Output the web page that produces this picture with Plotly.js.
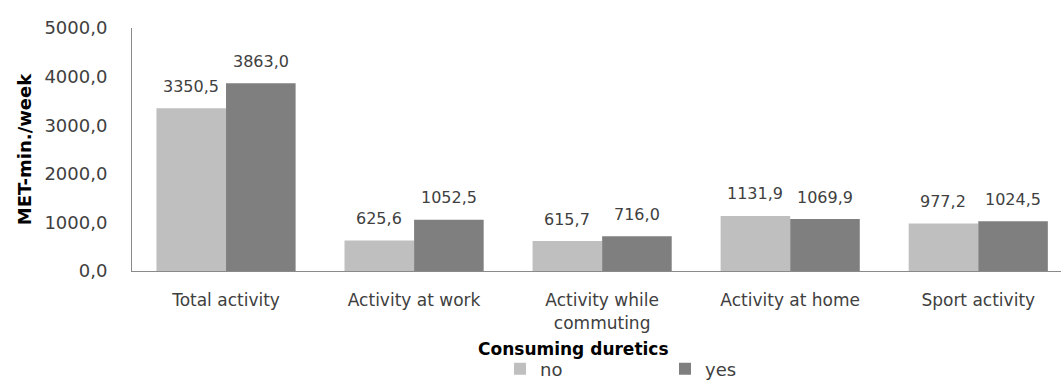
<!DOCTYPE html>
<html>
<head>
<meta charset="utf-8">
<script src="https://cdn.plot.ly/plotly-3.0.1.min.js"></script>
<style>
  html, body { margin: 0; padding: 0; background: #ffffff; }
  #chart { width: 1061px; height: 381px; }
</style>
</head>
<body>
<div id="chart"></div>
<script>
// Physical activity (MET-min./week) by diuretic use
const categories = ['Total activity', 'Activity at work', 'Activity while<br>commuting', 'Activity at home', 'Sport activity'];
const seriesNames = ['no', 'yes'];
const valuesNo  = [3350.5, 625.6, 615.7, 1131.9, 977.2];
const valuesYes = [3863.0, 1052.5, 716.0, 1069.9, 1024.5];
const yTicks = [0, 1000, 2000, 3000, 4000, 5000];

const colorNo = '#bfbfbf';
const colorYes = '#7f7f7f';
const FONT = 'DejaVu Sans, sans-serif';
const bargap = 0.26;

// Comma decimal separator, one decimal place
const fmt = v => v.toFixed(1).replace('.', ',');

const idx = categories.map((_, i) => i);

const traces = [
  { type: 'bar', name: seriesNames[0], x: idx, y: valuesNo,
    marker: { color: colorNo }, hoverinfo: 'y' },
  { type: 'bar', name: seriesNames[1], x: idx, y: valuesYes,
    marker: { color: colorYes }, hoverinfo: 'y' }
];

// Value labels above each bar, offset to the centre of its half of the group
const half = (1 - bargap) / 4;
const labels = [];
idx.forEach(i => {
  labels.push({ x: i - half, y: valuesNo[i], text: fmt(valuesNo[i]) });
  labels.push({ x: i + half, y: valuesYes[i], text: fmt(valuesYes[i]) });
});
const annotations = labels.map(l => ({
  xref: 'x', yref: 'y', x: l.x, y: l.y, text: l.text,
  showarrow: false, yanchor: 'middle', yshift: 22,
  font: { family: FONT, size: 16, color: '#404040' }
}));
// Legend heading
annotations.push({
  xref: 'paper', yref: 'paper', x: (573 - 132) / 929, y: -(349 - 271) / 243,
  xanchor: 'center', yanchor: 'middle', showarrow: false,
  text: '<b>Consuming duretics</b>',
  font: { family: FONT, size: 17, color: '#000000' }
});

const layout = {
  width: 1061, height: 381,
  margin: { l: 132, r: 0, t: 28, b: 110, autoexpand: false },
  paper_bgcolor: '#ffffff', plot_bgcolor: '#ffffff',
  barmode: 'group', bargap: bargap, bargroupgap: 0,
  showlegend: true,
  legend: {
    orientation: 'h', xref: 'container', yref: 'container',
    x: 500 / 1061, xanchor: 'left', y: (381 - 369) / 381, yanchor: 'middle',
    font: { family: FONT, size: 18, color: '#404040' },
    entrywidth: 120, entrywidthmode: 'pixels', traceorder: 'normal'
  },
  xaxis: {
    range: [-0.5, 4.44], tickmode: 'array', tickvals: idx, ticktext: categories,
    showline: true, linecolor: '#8a8a8a', linewidth: 1,
    showgrid: false, zeroline: false, ticks: '', ticklabelstandoff: 14,
    tickfont: { family: FONT, size: 17, color: '#404040' }, fixedrange: true
  },
  yaxis: {
    range: [0, 5000], tickmode: 'array', tickvals: yTicks, ticktext: yTicks.map(fmt),
    showline: true, linecolor: '#8a8a8a', linewidth: 1,
    showgrid: false, zeroline: false, ticks: '', ticklabelstandoff: 20,
    tickfont: { family: FONT, size: 18, color: '#404040' },
    title: { text: '<b>MET-min./week</b>', standoff: 8,
             font: { family: FONT, size: 18, color: '#000000' } },
    fixedrange: true
  },
  annotations: annotations
};

Plotly.newPlot('chart', traces, layout, { displayModeBar: false, staticPlot: true });
</script>
</body>
</html>
